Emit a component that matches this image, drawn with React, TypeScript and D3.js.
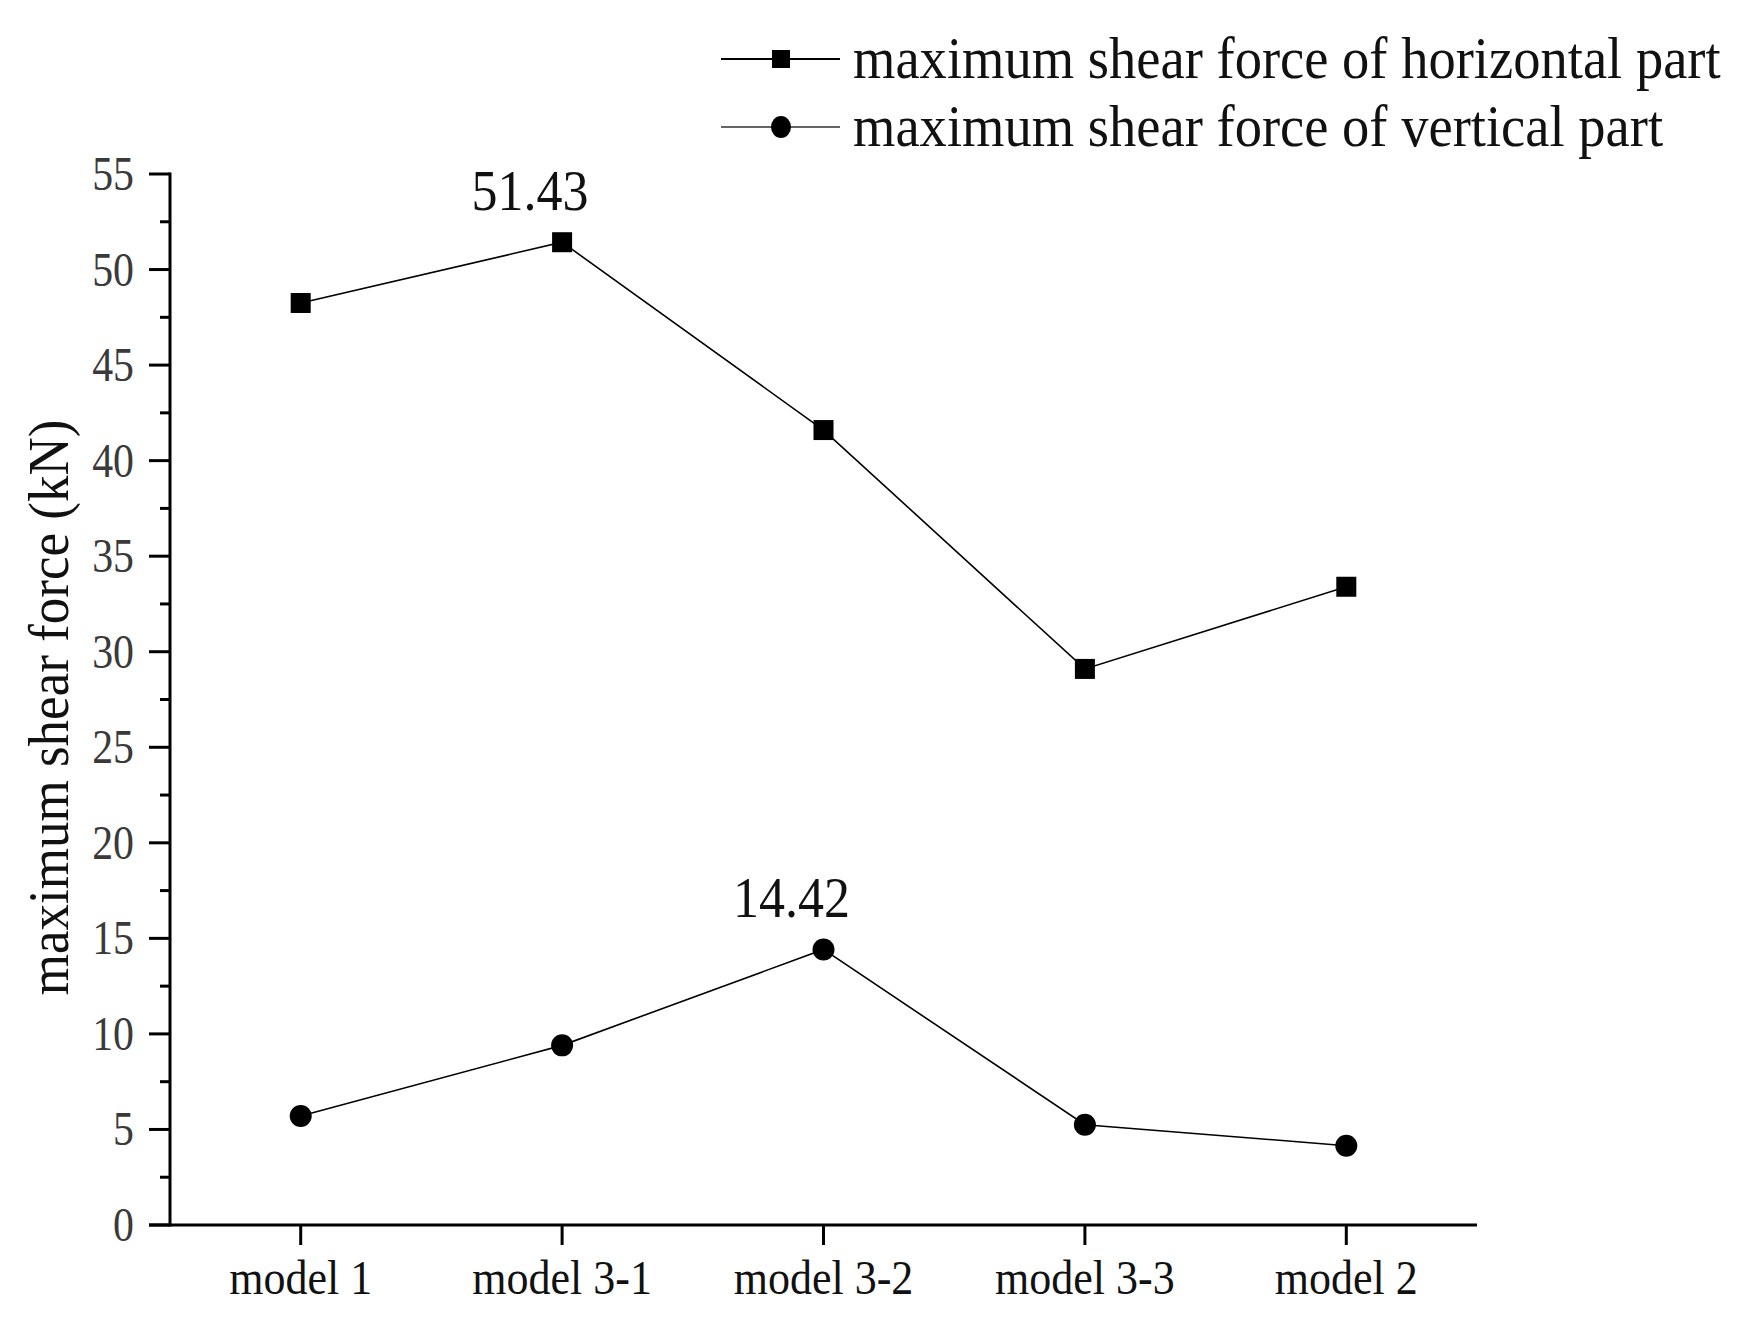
import React from "react";
import * as d3 from "d3";

const categories = ["model 1", "model 3-1", "model 3-2", "model 3-3", "model 2"];
const horizontalValues = [48.25, 51.43, 41.6, 29.1, 33.4];
const verticalValues = [5.7, 9.4, 14.42, 5.25, 4.15];
const yTicks = [0, 5, 10, 15, 20, 25, 30, 35, 40, 45, 50, 55];
const yMinorTicks = [2.5, 7.5, 12.5, 17.5, 22.5, 27.5, 32.5, 37.5, 42.5, 47.5, 52.5];
const legendLabels = ["maximum shear force of horizontal part", "maximum shear force of vertical part"];
const yTitle = "maximum shear force (kN)";
const annotations = [
  { series: 0, index: 1, text: "51.43" },
  { series: 1, index: 2, text: "14.42" },
];

const W = 1744;
const H = 1329;
const FONT = "'Liberation Serif', 'Times New Roman', serif";

function T(props: {
  x: number;
  y: number;
  size: number;
  anchor?: string;
  fill?: string;
  sx?: number;
  sy?: number;
  rotate?: number;
  dy?: string;
  children: React.ReactNode;
}) {
  const { x, y, size, anchor = "start", fill = "#111", sx = 1, sy = 1.08, rotate = 0, dy } = props;
  return (
    <g transform={`translate(${x},${y}) rotate(${rotate}) scale(${sx},${sy})`}>
      <text x={0} y={0} dy={dy} textAnchor={anchor} fontSize={size} fill={fill}>
        {props.children}
      </text>
    </g>
  );
}

export default function App() {
  const x0 = 170, x1 = 1477, yTop = 174, yBot = 1225;
  const x = d3.scalePoint<string>().domain(categories).range([x0, x1]).padding(0.5);
  const y = d3.scaleLinear().domain([0, 55]).range([yBot, yTop]);
  const line = d3.line<number>().x((_, i) => x(categories[i])!).y((d) => y(d));
  const series = [horizontalValues, verticalValues];

  return (
    <div style={{ margin: -8 }}>
      <svg width={W} height={H} style={{ display: "block", background: "#fff" }} fontFamily={FONT}>
        {/* axes */}
        <line x1={x0} x2={x0} y1={yTop - 1.5} y2={yBot + 1.5} stroke="#000" strokeWidth={3} />
        <line x1={x0 - 21} x2={x1} y1={yBot} y2={yBot} stroke="#000" strokeWidth={3} />
        {yTicks.map((t) => (
          <g key={t}>
            <line x1={x0 - 21} x2={x0} y1={y(t)} y2={y(t)} stroke="#000" strokeWidth={3} />
            <T x={x0 - 36} y={y(t) + 16} anchor="end" size={44} sx={0.95} sy={1.1} fill="#3a3a3a">
              {t}
            </T>
          </g>
        ))}
        {yMinorTicks.map((t) => (
          <line key={t} x1={x0 - 10} x2={x0} y1={y(t)} y2={y(t)} stroke="#000" strokeWidth={3} />
        ))}
        {categories.map((c) => (
          <g key={c}>
            <line x1={x(c)} x2={x(c)} y1={yBot} y2={yBot + 20} stroke="#000" strokeWidth={3} />
            <T x={x(c)!} y={1294} anchor="middle" size={44} sy={1.08}>
              {c}
            </T>
          </g>
        ))}
        <T x={68} y={(yTop + yBot) / 2 + 8} anchor="middle" size={52} rotate={-90} sx={1.02} sy={1.08}>
          {yTitle}
        </T>

        {/* series */}
        {series.map((vals, s) => (
          <g key={s}>
            <path d={line(vals)!} fill="none" stroke="#000" strokeWidth={1.6} />
            {vals.map((v, i) =>
              s === 0 ? (
                <rect key={i} x={x(categories[i])! - 10} y={y(v) - 10} width={20} height={20} fill="#000" />
              ) : (
                <circle key={i} cx={x(categories[i])!} cy={y(v)} r={11} fill="#000" />
              )
            )}
          </g>
        ))}
        {annotations.map((a) => (
          <T
            key={a.text}
            x={x(categories[a.index])! - 32}
            y={y(series[a.series][a.index]) - 32}
            anchor="middle"
            size={52}
            sy={1.1}
          >
            {a.text}
          </T>
        ))}

        {/* legend */}
        {legendLabels.map((l, i) => {
          const ly = 59 + i * 68;
          return (
            <g key={l}>
              <line x1={721} x2={840} y1={ly} y2={ly} stroke={i === 0 ? "#000" : "#666"} strokeWidth={2} />
              {i === 0 ? (
                <rect x={772} y={ly - 9} width={18} height={18} fill="#000" />
              ) : (
                <ellipse cx={781} cy={ly} rx={10} ry={11} fill="#000" />
              )}
              <T x={853} y={ly + 19} size={54} sx={1.01} sy={1.1}>
                {l}
              </T>
            </g>
          );
        })}
      </svg>
    </div>
  );
}
